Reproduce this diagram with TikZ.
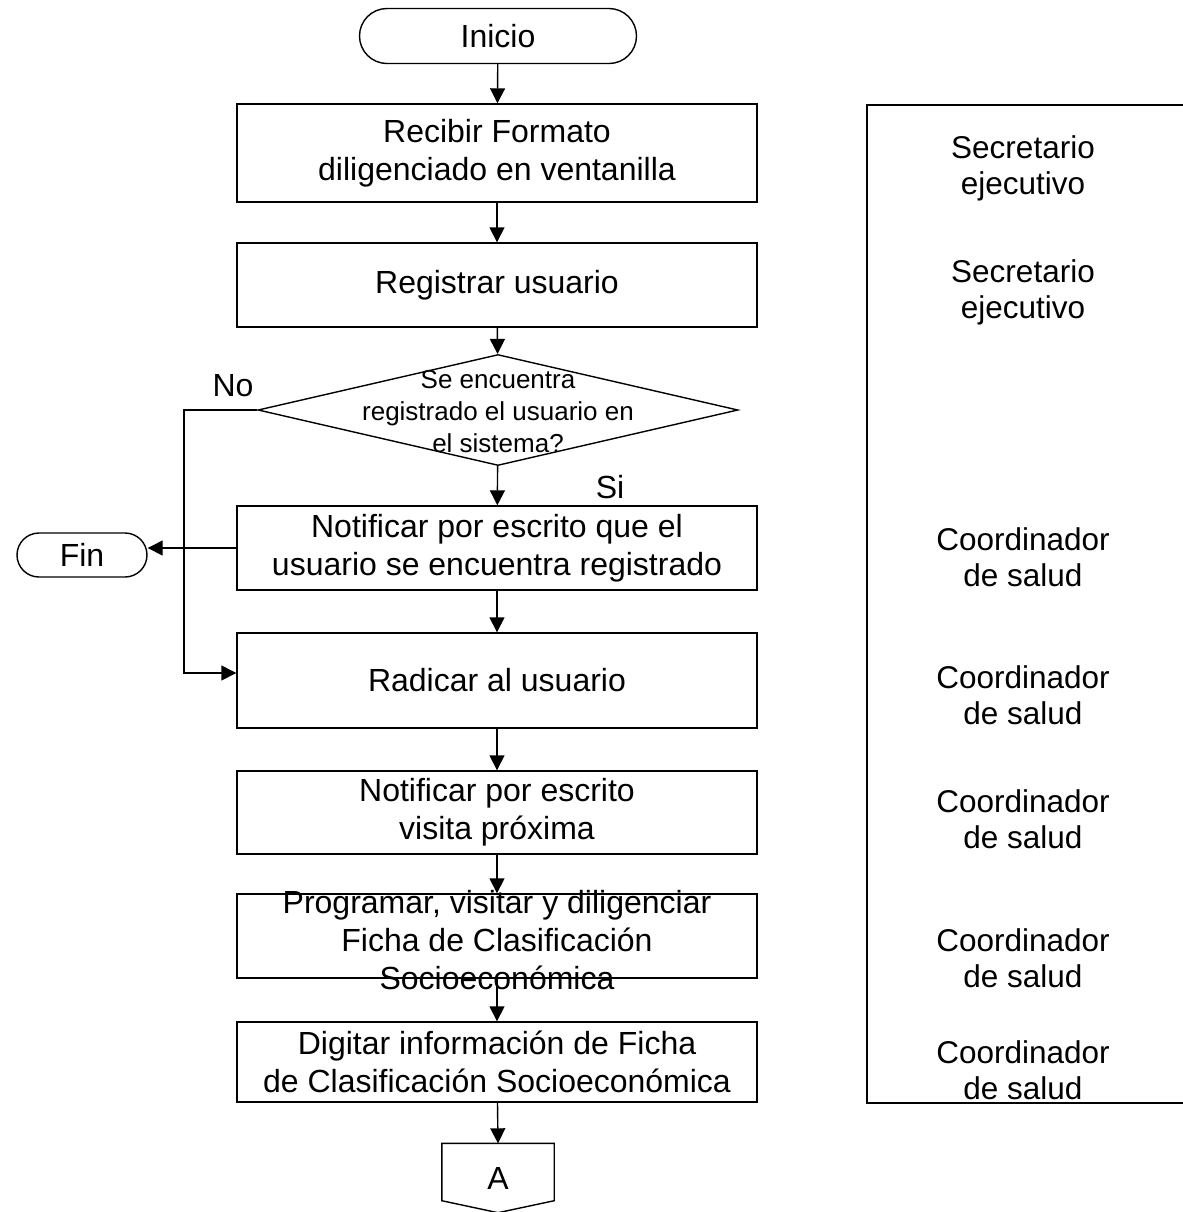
\documentclass[tikz,border=0pt]{standalone}
\usepackage{fontspec}
\setmainfont{Liberation Sans}
\usepackage{tikz}
\usetikzlibrary{arrows.meta}
\usetikzlibrary{shapes.geometric}
\usetikzlibrary{shapes.misc}

\begin{document}
\begin{tikzpicture}[x=0.5pt, y=-0.5pt, line width=0.7pt,
    caja/.style={draw, minimum width=260pt, inner sep=0pt, align=center,
      font=\fontsize{16}{19}\selectfont},
    terminal/.style={draw, rounded rectangle, inner sep=0pt,
      font=\fontsize{16}{19}\selectfont},
    pregunta/.style={align=center, font=\fontsize{13}{16}\selectfont},
    cargo/.style={align=center, font=\fontsize{15.75}{18}\selectfont},
    etiqueta/.style={font=\fontsize{16}{19}\selectfont},
    flecha/.style={-{Triangle[length=7.5pt,width=7.5pt]}}]
  \useasboundingbox (0,0) rectangle (1183,1212);

  % Start and steps
  \node[terminal, minimum width=138.5pt, minimum height=27.5pt] (ini) at (498,36) {Inicio};
  \node[caja, minimum height=49pt] (rec) at (497,153) {Recibir Formato\\diligenciado en ventanilla};
  \node[caja, minimum height=42pt] (reg) at (497,285) {Registrar usuario};

  % Decision
  \node[diamond, draw, minimum width=240pt, minimum height=55.5pt, inner sep=0pt] (dec) at (498,410) {};
  \node[pregunta] (dectxt) at (498,412) {Se encuentra\\registrado el usuario en\\el sistema?};
  \node[etiqueta] (no) at (233,386) {No};
  \node[etiqueta] (si) at (610,487) {Si};

  \node[caja, minimum height=42pt] (notif) at (497,548) {Notificar por escrito que el\\usuario se encuentra registrado};
  \node[terminal, minimum width=65pt, minimum height=22pt] (fin) at (82,555) {Fin};
  \node[caja, minimum height=47.5pt] (rad) at (497,680.5) {Radicar al usuario};
  \node[caja, minimum height=41.5pt] (vis) at (497,812.5) {Notificar por escrito\\visita próxima};

  % the text of this one runs over its box
  \node[caja, minimum height=42pt] (prog) at (497,936) {};
  \node[caja, draw=none] (progtxt) at (497,940) {Programar, visitar y diligenciar\\Ficha de Clasificación\\Socioeconómica};
  \node[caja, minimum height=40pt] (dig) at (497,1062) {Digitar información de Ficha\\de Clasificación Socioeconómica};

  % Off-page connector
  \node[etiqueta, minimum width=55.5pt, minimum height=34pt, inner sep=0pt] (conA) at (498,1178) {A};
  \draw (conA.north west) -- (conA.north east) -- ([yshift=6pt]conA.south east)
    -- (conA.south) -- ([yshift=6pt]conA.south west) -- cycle;

  % Arrows
  \draw[flecha] (ini) -- (rec);
  \draw[flecha] (rec) -- (reg);
  \draw[flecha] (reg) -- (dec);
  \draw[flecha] (dec) -- (notif);
  \draw[flecha] (notif.west) -- (fin.east |- notif.west);
  \draw[flecha] (notif) -- (rad);
  \coordinate (codo) at (184,410);
  \draw[flecha] (dec.west) -- (codo) |- ([yshift=3.75pt]rad.west);
  \draw[flecha] (rad) -- (vis);
  \draw[flecha] (vis) -- (prog);
  \draw[flecha] (prog) -- (dig);
  \draw[flecha] (dig) -- (conA.north);

  % Responsible column
  \draw (1190,105) -- (867,105) -- (867,1103) -- (1190,1103);
  \node[cargo] (c1) at (1023,168) {Secretario\\ejecutivo};
  \node[cargo] (c2) at (1023,292) {Secretario\\ejecutivo};
  \node[cargo] (c3) at (1023,557) {Coordinador\\de salud};
  \node[cargo] (c4) at (1023,695) {Coordinador\\de salud};
  \node[cargo] (c5) at (1023,819) {Coordinador\\de salud};
  \node[cargo] (c6) at (1023,958) {Coordinador\\de salud};
  \node[cargo] (c7) at (1023,1070) {Coordinador\\de salud};

\end{tikzpicture}
\end{document}
